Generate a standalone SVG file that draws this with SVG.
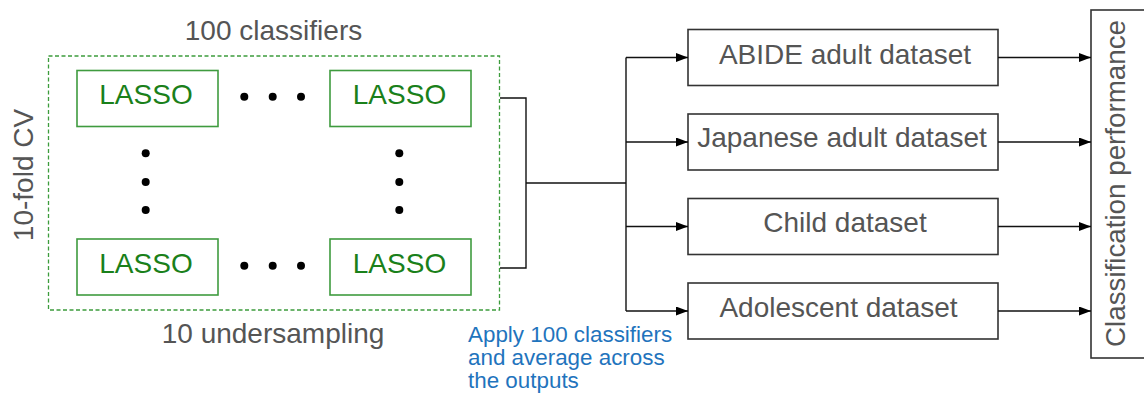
<svg xmlns="http://www.w3.org/2000/svg" width="1144" height="394" viewBox="0 0 1144 394">
  <defs>
    <marker id="arrow" viewBox="0 0 12 9" refX="12" refY="4.5" markerWidth="12" markerHeight="9" markerUnits="userSpaceOnUse" orient="auto">
      <path d="M0,0 L12,4.5 L0,9 Z" fill="#000"/>
    </marker>
    <style>
      text { font-family: "Liberation Sans", Arial, sans-serif; }
      .label { font-size: 28px; fill: #555555; }
      .lasso-box { fill: #ffffff; stroke: #3f9b3f; stroke-width: 1.6; }
      .lasso-text { font-size: 28px; fill: #1a801a; text-anchor: middle; }
      .data-box { fill: #ffffff; stroke: #333333; stroke-width: 1.6; }
      .data-text { font-size: 28px; fill: #555555; text-anchor: middle; }
      .dot { fill: #000000; }
      .wire { fill: none; stroke: #111111; stroke-width: 1.4; }
      .note { font-size: 22.4px; fill: #1f74bd; }
    </style>
  </defs>

  <rect width="1144" height="394" fill="#ffffff"/>

  <!-- ensemble of classifiers -->
  <g id="ensemble">
    <rect x="48.5" y="56" width="451" height="254" fill="none" stroke="#3c9c3c" stroke-width="1.3" stroke-dasharray="4 2.5"/>
    <text class="label" x="273.5" y="40" text-anchor="middle">100 classifiers</text>
    <text class="label" x="273" y="343" text-anchor="middle">10 undersampling</text>
    <text class="label" font-size="30.5" transform="translate(33,175) rotate(-90)" text-anchor="middle">10-fold CV</text>
  </g>

  <g id="lasso-top-left">
    <rect class="lasso-box" x="77" y="70.5" width="141" height="56"/>
    <text class="lasso-text" x="146" y="103.5">LASSO</text>
  </g>
  <g id="lasso-top-right">
    <rect class="lasso-box" x="330" y="70.5" width="141" height="56"/>
    <text class="lasso-text" x="399.5" y="103.5">LASSO</text>
  </g>
  <g id="lasso-bottom-left">
    <rect class="lasso-box" x="77" y="239" width="141" height="56"/>
    <text class="lasso-text" x="146" y="272.5">LASSO</text>
  </g>
  <g id="lasso-bottom-right">
    <rect class="lasso-box" x="330" y="239" width="141" height="56"/>
    <text class="lasso-text" x="399.5" y="272.5">LASSO</text>
  </g>

  <!-- ellipsis dots between classifiers -->
  <g id="ellipses">
    <circle class="dot" cx="244.3" cy="96.7" r="4"/>
    <circle class="dot" cx="272.7" cy="96.7" r="4"/>
    <circle class="dot" cx="301" cy="96.7" r="4"/>
    <circle class="dot" cx="244.3" cy="265.7" r="4"/>
    <circle class="dot" cx="272.7" cy="265.7" r="4"/>
    <circle class="dot" cx="301" cy="265.7" r="4"/>
    <circle class="dot" cx="145.7" cy="153.3" r="4"/>
    <circle class="dot" cx="145.7" cy="182" r="4"/>
    <circle class="dot" cx="145.7" cy="210" r="4"/>
    <circle class="dot" cx="399.3" cy="153.3" r="4"/>
    <circle class="dot" cx="399.3" cy="182" r="4"/>
    <circle class="dot" cx="399.3" cy="210" r="4"/>
  </g>

  <g id="apply-note">
    <text class="note" x="468" y="341.5">Apply 100 classifiers</text>
    <text class="note" x="468" y="364.5">and average across</text>
    <text class="note" x="468" y="387.5">the outputs</text>
  </g>

  <!-- target datasets -->
  <g id="abide-adult">
    <rect class="data-box" x="688" y="29.5" width="310" height="56"/>
    <text class="data-text" x="845" y="63.5">ABIDE adult dataset</text>
  </g>
  <g id="japanese-adult">
    <rect class="data-box" x="688" y="114" width="310" height="56"/>
    <text class="data-text" x="842" y="147">Japanese adult dataset</text>
  </g>
  <g id="child">
    <rect class="data-box" x="688" y="198.5" width="310" height="56"/>
    <text class="data-text" x="845" y="232">Child dataset</text>
  </g>
  <g id="adolescent">
    <rect class="data-box" x="688" y="283" width="310" height="56"/>
    <text class="data-text" x="838.5" y="316.5">Adolescent dataset</text>
  </g>

  <g id="classification-performance">
    <rect class="data-box" x="1091" y="10" width="60" height="348"/>
    <text class="data-text" transform="translate(1125,183.5) rotate(-90)" textLength="327" lengthAdjust="spacingAndGlyphs">Classification performance</text>
  </g>

  <!-- connectors -->
  <g id="connectors">
    <path class="wire" d="M500,98 H526 V268 H500"/>
    <path class="wire" d="M526,183 H626"/>
    <path class="wire" d="M626,57.5 V311"/>
    <path class="wire" d="M626,57.5 H688" marker-end="url(#arrow)"/>
    <path class="wire" d="M626,142 H688" marker-end="url(#arrow)"/>
    <path class="wire" d="M626,226.5 H688" marker-end="url(#arrow)"/>
    <path class="wire" d="M626,311 H688" marker-end="url(#arrow)"/>
    <path class="wire" d="M998,57.5 H1091" marker-end="url(#arrow)"/>
    <path class="wire" d="M998,142 H1091" marker-end="url(#arrow)"/>
    <path class="wire" d="M998,226.5 H1091" marker-end="url(#arrow)"/>
    <path class="wire" d="M998,311 H1091" marker-end="url(#arrow)"/>
  </g>
</svg>
